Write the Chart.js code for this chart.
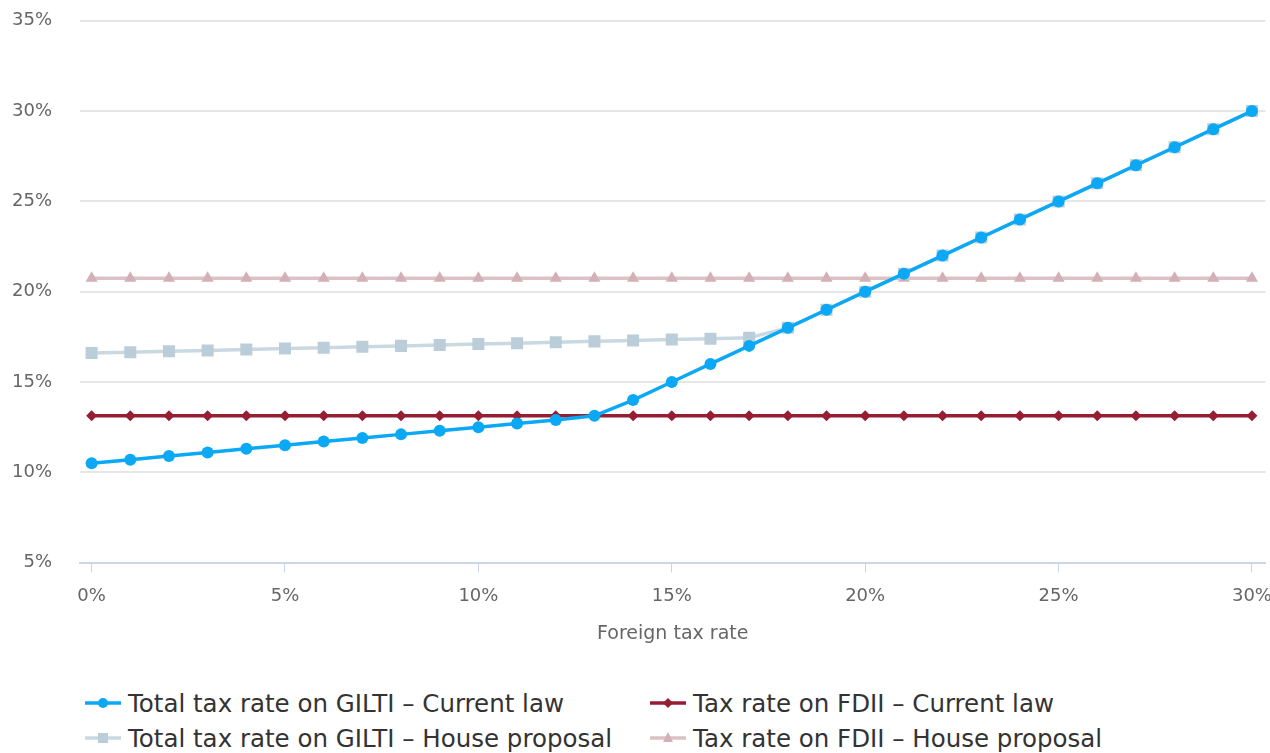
<!DOCTYPE html>
<html>
<head>
<meta charset="utf-8">
<script src="https://cdn.jsdelivr.net/npm/chart.js@4.4.1/dist/chart.umd.min.js"></script>
<style>
  body { margin: 0; background: #fff; font-family: "DejaVu Sans", sans-serif; overflow: hidden; }
  #wrap { position: relative; width: 1274px; height: 671px; margin-top: -18px; }
  #legend { display: grid; grid-template-columns: 565px 600px; padding-left: 85px; margin-top: 33px; row-gap: 1px; }
  .item { display: flex; align-items: center; font-size: 24.5px; color: #333; height: 34px; }
  .item svg { margin-right: 7px; }
</style>
</head>
<body>
<div id="wrap"><canvas id="lineChart"></canvas></div>
<div id="legend"></div>
<script>
var foreignRates = [0,1,2,3,4,5,6,7,8,9,10,11,12,13,14,15,16,17,18,19,20,21,22,23,24,25,26,27,28,29,30];
var gilitCurrent = [10.5,10.7,10.9,11.1,11.3,11.5,11.7,11.9,12.1,12.3,12.5,12.7,12.9,13.125,14,15,16,17,18,19,20,21,22,23,24,25,26,27,28,29,30];
var gilitHouse = [16.6,16.65,16.7,16.75,16.8,16.85,16.9,16.95,17,17.05,17.1,17.15,17.2,17.25,17.3,17.35,17.4,17.45,18,19,20,21,22,23,24,25,26,27,28,29,30];
var fdiiCurrent = [13.125,13.125,13.125,13.125,13.125,13.125,13.125,13.125,13.125,13.125,13.125,13.125,13.125,13.125,13.125,13.125,13.125,13.125,13.125,13.125,13.125,13.125,13.125,13.125,13.125,13.125,13.125,13.125,13.125,13.125,13.125];
var fdiiHouse = [20.75,20.75,20.75,20.75,20.75,20.75,20.75,20.75,20.75,20.75,20.75,20.75,20.75,20.75,20.75,20.75,20.75,20.75,20.75,20.75,20.75,20.75,20.75,20.75,20.75,20.75,20.75,20.75,20.75,20.75,20.75];
var yTicks = [5,10,15,20,25,30,35];
var xTicks = [0,5,10,15,20,25,30];

function pts(arr) {
    return arr.map(function (v, i) { return { x: foreignRates[i], y: v }; });
}

var series = [
    { label: 'Total tax rate on GILTI – Current law', data: gilitCurrent, color: '#0aa8f5', point: '#0aa8f5', style: 'circle', radius: 6 },
    { label: 'Tax rate on FDII – Current law', data: fdiiCurrent, color: '#961e33', point: '#961e33', style: 'rectRot', radius: 5.5 },
    { label: 'Total tax rate on GILTI – House proposal', data: gilitHouse, color: '#c9d9e2', point: '#bacdd8', style: 'rect', radius: 8.5 },
    { label: 'Tax rate on FDII – House proposal', data: fdiiHouse, color: '#dcc1c5', point: '#d2b0b6', style: 'triangle', radius: 7 }
];

var ctx1 = document.getElementById('lineChart').getContext('2d');
var lineChart = new Chart(ctx1, {
    type: 'line',
    data: {
        datasets: series.map(function (s) {
            return {
                label: s.label,
                data: pts(s.data),
                borderColor: s.color,
                backgroundColor: s.point,
                pointBackgroundColor: s.point,
                pointBorderWidth: 0,
                pointStyle: s.style,
                pointRadius: s.radius,
                borderWidth: 3.5,
                tension: 0
            };
        })
    },
    options: {
        responsive: true,
        maintainAspectRatio: false,
        animation: false,
        layout: { padding: { left: 2, right: 0, top: 0, bottom: 4 } },
        plugins: {
            legend: { display: false },
            tooltip: { enabled: false }
        },
        scales: {
            x: {
                type: 'linear',
                min: -0.3,
                max: 30.35,
                afterBuildTicks: function (axis) {
                    axis.ticks = xTicks.map(function (v) { return { value: v }; });
                },
                afterFit: function (axis) { axis.paddingRight = 0; },
                ticks: {
                    color: '#666',
                    font: { family: 'DejaVu Sans', size: 18 },
                    padding: 13,
                    callback: function (v) { return v + '%'; }
                },
                grid: {
                    drawOnChartArea: false,
                    color: '#ccd6eb',
                    tickLength: 10
                },
                border: { color: '#ccd6eb', width: 2 },
                title: {
                    display: true,
                    text: 'Foreign tax rate',
                    color: '#666',
                    font: { family: 'DejaVu Sans', size: 19 },
                    padding: { top: 2 }
                }
            },
            y: {
                min: 5,
                max: 35,
                afterBuildTicks: function (axis) {
                    axis.ticks = yTicks.map(function (v) { return { value: v }; });
                },
                afterFit: function (axis) { axis.width = 78; },
                ticks: {
                    color: '#666',
                    font: { family: 'DejaVu Sans', size: 18 },
                    padding: 28,
                    callback: function (v) { return v + '%'; }
                },
                grid: {
                    color: '#e6e6e6',
                    lineWidth: 2,
                    drawTicks: false
                },
                border: { display: false }
            }
        }
    }
});

// html legend: line with the marker in the middle
var legend = document.getElementById('legend');
series.forEach(function (s) {
    var marker;
    if (s.style === 'circle') marker = '<circle cx="18" cy="8" r="5" fill="' + s.point + '"/>';
    else if (s.style === 'rectRot') marker = '<polygon points="18,3 23,8 18,13 13,8" fill="' + s.point + '"/>';
    else if (s.style === 'rect') marker = '<rect x="13" y="3" width="10" height="10" fill="' + s.point + '"/>';
    else marker = '<polygon points="18,2 23,12 13,12" fill="' + s.point + '"/>';
    var div = document.createElement('div');
    div.className = 'item';
    div.innerHTML = '<svg width="36" height="16"><line x1="0" y1="8" x2="36" y2="8" stroke="' + s.color + '" stroke-width="3.5"/>' + marker + '</svg><span>' + s.label + '</span>';
    legend.appendChild(div);
});
</script>
</body>
</html>
